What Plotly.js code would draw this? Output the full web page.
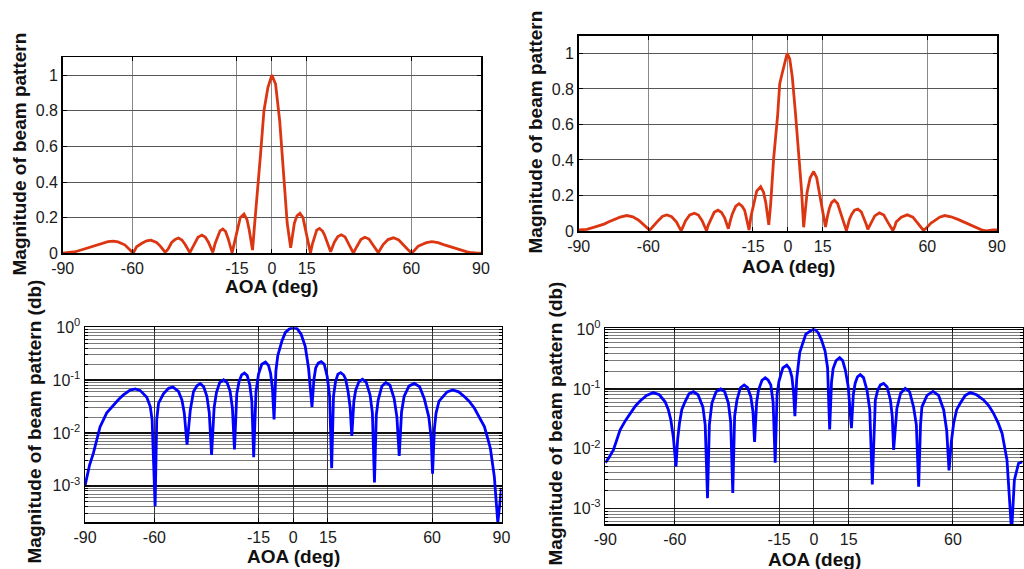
<!DOCTYPE html>
<html>
<head>
<meta charset="utf-8">
<script src="https://cdn.plot.ly/plotly-3.0.1.min.js"></script>
<style>html,body{margin:0;padding:0;background:#fff;}#chart{width:1024px;height:569px;}</style>
</head>
<body>
<div id="chart"></div>
<script>
// ---- Data ----
// Design A (left column): angle of arrival (deg) and beam-pattern magnitude
const angleA = [-90, -88, -86.4, -84.5, -83.5, -80.6, -77.7, -75.5, -73.4, -70.5, -68.3, -66.2, -63.3, -61.8, -61.0, -59.7,
  -59.0, -58.2, -56.1, -53.9, -52, -49.6, -48.1, -47.1, -45.9,
  -45.2, -44.5, -43.1, -41.6, -40.2, -38.7, -37.3, -36.3, -35.3,
  -34.2, -33.2, -31.8, -30.1, -28.6, -27.3, -26.3, -25.4,
  -24.4, -23.4, -22.3, -21.1, -19.9, -18.8, -17.9, -17.1,
  -16.1, -15.0, -13.6, -12.0, -10.7, -9.8, -9.0, -8.3,
  -7.5, -6.7, -4.9, -3.4, -1.7, 0, 1.6, 3.4, 5.2, 6.6, 8.1,
  8.9, 9.7, 10.8, 12.1, 13.4, 14.7, 15.7, 16.6,
  17.4, 18.3, 19.3, 20.5, 21.8, 22.6, 23.7, 24.6, 25.3,
  26.2, 27.0, 28.4, 29.9, 31.5, 33.2, 34.2, 35.1,
  35.9, 36.7, 38.3, 40.0, 41.8, 43.6, 44.8, 45.8,
  46.8, 47.9, 50.0, 52.3, 54.6, 56.6, 58.6, 59.6, 60.2,
  61.0, 61.7, 63.0, 64.6, 66.5, 68.9, 71.5, 73.9, 76.0, 78.3, 80.5, 82.6, 84.0, 85.2, 86.9, 88.4, 90];
const magA = [0.001, 0.0025, 0.0041, 0.009, 0.013, 0.024, 0.034, 0.043, 0.0525, 0.065, 0.068, 0.064, 0.0475, 0.0316, 0.018, 0.00041,
  0.018, 0.0366, 0.055, 0.070, 0.074, 0.061, 0.042, 0.024, 0.006,
  0.015, 0.027, 0.061, 0.078, 0.086, 0.075, 0.049, 0.024, 0.00385,
  0.03, 0.058, 0.09, 0.102, 0.09, 0.062, 0.03, 0.0049,
  0.055, 0.095, 0.126, 0.136, 0.122, 0.082, 0.04, 0.0035,
  0.06, 0.13, 0.2, 0.22, 0.19, 0.135, 0.07, 0.018,
  0.15, 0.29, 0.55, 0.8, 0.93, 1.0, 0.95, 0.74, 0.43, 0.17, 0.031,
  0.1, 0.17, 0.21, 0.224, 0.2, 0.116, 0.05, 0.00216,
  0.05, 0.095, 0.13, 0.139, 0.125, 0.105, 0.061, 0.03, 0.0088,
  0.04, 0.065, 0.094, 0.104, 0.092, 0.0525, 0.024, 0.00116,
  0.022, 0.042, 0.077, 0.09, 0.08, 0.045, 0.02, 0.0037,
  0.025, 0.049, 0.077, 0.087, 0.075, 0.045, 0.02, 0.008, 0.0017,
  0.012, 0.0237, 0.04, 0.049, 0.06, 0.065, 0.06, 0.049, 0.04, 0.0294, 0.02, 0.0132, 0.008, 0.0051, 0.0015, 0.0002, 0.00091];

// Design B (right column)
const angleB = [-90, -88.5, -86.5, -83.6, -81.2, -79.1, -77, -75.0, -72.2, -69.3, -66.7, -64.2, -62.8, -61.7, -60.6, -59.5,
  -58.8, -58, -57, -55.6, -53.9, -52, -50, -47.9, -46.9, -45.9,
  -45.1, -44, -42.2, -40.2, -38.5, -36.9, -35.9, -35,
  -34.2, -33.2, -31.7, -30.1, -28.6, -27.2, -26.3, -25.6,
  -24.7, -23.9, -22.4, -21, -19.7, -18.6, -17.6, -16.7,
  -15.9, -15.1, -13.4, -11.7, -10.5, -9.5, -8.8, -8.2,
  -7.4, -6.1, -4.4, -3.5, -2.4, -1.2, -0.3, 0.8, 1.9, 3.3, 4.8, 5.9, 6.8,
  7.6, 8.3, 9.6, 11.1, 12.4, 13.6, 14.8, 15.6, 16.2,
  17.0, 17.8, 18.8, 20, 21.4, 22.9, 24.1, 25.2,
  26.5, 27.5, 28.7, 30.1, 31.6, 33, 33.8, 34.4,
  35.8, 37.4, 39.4, 41.3, 43, 44.2, 45.2,
  46, 46.6, 48.8, 51.4, 53.8, 56, 57.3, 58.3,
  59.3, 60.3, 61.6, 63.2, 65.3, 67.5, 70.2, 73.2, 75.5, 77.5, 79.5, 81.2, 83.3, 85.3, 86.5, 88.3, 90];
const magB = [0.0058, 0.007, 0.0095, 0.0206, 0.03, 0.039, 0.052, 0.063, 0.078, 0.087, 0.08, 0.061, 0.045, 0.03, 0.015, 0.005,
  0.014, 0.0266, 0.045, 0.061, 0.083, 0.09, 0.08, 0.05, 0.025, 0.00148,
  0.025, 0.058, 0.09, 0.1, 0.09, 0.058, 0.028, 0.0018,
  0.035, 0.0655, 0.105, 0.117, 0.105, 0.074, 0.042, 0.013,
  0.06, 0.096, 0.14, 0.154, 0.14, 0.117, 0.06, 0.0058,
  0.08, 0.133, 0.225, 0.25, 0.22, 0.16, 0.09, 0.035,
  0.15, 0.41, 0.65, 0.83, 0.89, 0.96, 1.0, 0.97, 0.87, 0.66, 0.435, 0.227, 0.021,
  0.13, 0.22, 0.3, 0.335, 0.3, 0.205, 0.11, 0.05, 0.022,
  0.08, 0.125, 0.16, 0.174, 0.155, 0.096, 0.045, 0.0025,
  0.065, 0.095, 0.117, 0.124, 0.108, 0.0655, 0.035, 0.0095,
  0.047, 0.085, 0.102, 0.09, 0.05, 0.025, 0.0023,
  0.025, 0.05, 0.078, 0.091, 0.078, 0.0445, 0.02, 0.0043,
  0.013, 0.0266, 0.045, 0.058, 0.078, 0.087, 0.08, 0.0655, 0.052, 0.039, 0.027, 0.018, 0.0065, 0.0004, 0.003, 0.0057, 0.006];

// Tick labels
const xTickVals = [-90, -60, -15, 0, 15, 60, 90];
const xTickText = ['-90', '-60', '-15', '0', '15', '60', '90'];
const linTickVals = [0, 0.2, 0.4, 0.6, 0.8, 1];
const linTickText = ['0', '0.2', '0.4', '0.6', '0.8', '1'];
const logTickVals = [0.001, 0.01, 0.1, 1];
const logTickText = ['10<sup>-3</sup>', '10<sup>-2</sup>', '10<sup>-1</sup>', '10<sup>0</sup>'];

const xTitle = 'AOA (deg)';
const yTitleLin = 'Magnitude of beam pattern';
const yTitleLog = 'Magnitude of beam pattern (db)';

// minor log tick positions (axis decoration)
const logMinor = [];
for (let e = -4; e <= -1; e++) for (let m = 2; m <= 9; m++) logMinor.push(m * Math.pow(10, e));

const W = 1024, H = 569;
const px = v => v / W;
const py = v => 1 - v / H;

const FONT = 'Liberation Sans, Arial, sans-serif';
const RED = '#dc3512';
const BLUE = '#0000ff';

function xAx(x0, x1, y, gridColor) {
  return {
    domain: [px(x0), px(x1)], anchor: y, range: [-90, 90],
    tickmode: 'array', tickvals: xTickVals, ticktext: xTickText,
    ticks: 'inside', ticklen: 4, tickcolor: '#000', tickwidth: 1,
    showline: true, linecolor: '#000', linewidth: 1.5, mirror: 'ticks',
    showgrid: true, gridcolor: gridColor, gridwidth: 1, zeroline: false,
    tickfont: {family: FONT, size: 16, color: '#1a1a1a'}
  };
}
function yLin(yTop, yBot, x) {
  return {
    domain: [py(yBot), py(yTop)], anchor: x, range: [0, 1.1],
    tickmode: 'array', tickvals: linTickVals, ticktext: linTickText,
    ticks: 'inside', ticklen: 4, tickcolor: '#000',
    showline: true, linecolor: '#000', linewidth: 1.5, mirror: 'ticks',
    showgrid: true, gridcolor: '#555', gridwidth: 1, zeroline: false,
    tickfont: {family: FONT, size: 16, color: '#1a1a1a'}
  };
}
function yLog(yTop, yBot, x, rng) {
  return {
    domain: [py(yBot), py(yTop)], anchor: x, type: 'log', range: rng,
    tickmode: 'array', tickvals: logTickVals, ticktext: logTickText,
    ticks: 'inside', ticklen: 5, tickcolor: '#000',
    showline: true, linecolor: '#000', linewidth: 1.5, mirror: 'ticks',
    showgrid: true, gridcolor: '#111', gridwidth: 1.5, zeroline: false,
    minor: {tickmode: 'array', tickvals: logMinor, ticks: 'inside', ticklen: 3, tickcolor: '#000', showgrid: true, gridcolor: '#7a7a7a', gridwidth: 1},
    tickfont: {family: FONT, size: 16, color: '#1a1a1a'}
  };
}

const traces = [
  {x: angleA, y: magA, xaxis: 'x', yaxis: 'y', type: 'scatter', mode: 'lines', line: {color: RED, width: 2.8}},
  {x: angleB, y: magB, xaxis: 'x2', yaxis: 'y2', type: 'scatter', mode: 'lines', line: {color: RED, width: 2.8}},
  {x: angleA, y: magA, xaxis: 'x3', yaxis: 'y3', type: 'scatter', mode: 'lines', line: {color: BLUE, width: 2.8}},
  {x: angleB, y: magB, xaxis: 'x4', yaxis: 'y4', type: 'scatter', mode: 'lines', line: {color: BLUE, width: 2.8}}
];

function title(text, x, y, angle) {
  return {text: '<b>' + text + '</b>', xref: 'paper', yref: 'paper', x: px(x), y: py(y),
    xanchor: 'center', yanchor: 'middle', showarrow: false, textangle: angle || 0,
    font: {family: FONT, size: 19, color: '#111'}};
}

const layout = {
  width: W, height: H,
  margin: {l: 0, r: 0, t: 0, b: 0},
  paper_bgcolor: '#fff', plot_bgcolor: '#fff',
  showlegend: false,
  xaxis: xAx(62.7, 481, 'y', '#888'),
  yaxis: yLin(57.3, 253.3, 'x'),
  xaxis2: xAx(578.7, 997, 'y2', '#888'),
  yaxis2: yLin(35.7, 231, 'x2'),
  xaxis3: xAx(85, 501.5, 'y3', '#333'),
  yaxis3: yLog(327.3, 522.3, 'x3', [-3.69, 0]),
  xaxis4: xAx(605.3, 1022.5, 'y4', '#333'),
  yaxis4: yLog(328.3, 524, 'x4', [-3.263, 0.017]),
  annotations: [
    title(xTitle, 271, 286),
    title(xTitle, 788, 266),
    title(xTitle, 293, 556),
    title(xTitle, 814, 559),
    title(yTitleLin, 19, 154.5, -90),
    title(yTitleLin, 535, 132.5, -90),
    title(yTitleLog, 34, 421.5, -90),
    title(yTitleLog, 555, 423.5, -90)
  ]
};

Plotly.newPlot('chart', traces, layout, {staticPlot: true, displayModeBar: false});
</script>
</body>
</html>
